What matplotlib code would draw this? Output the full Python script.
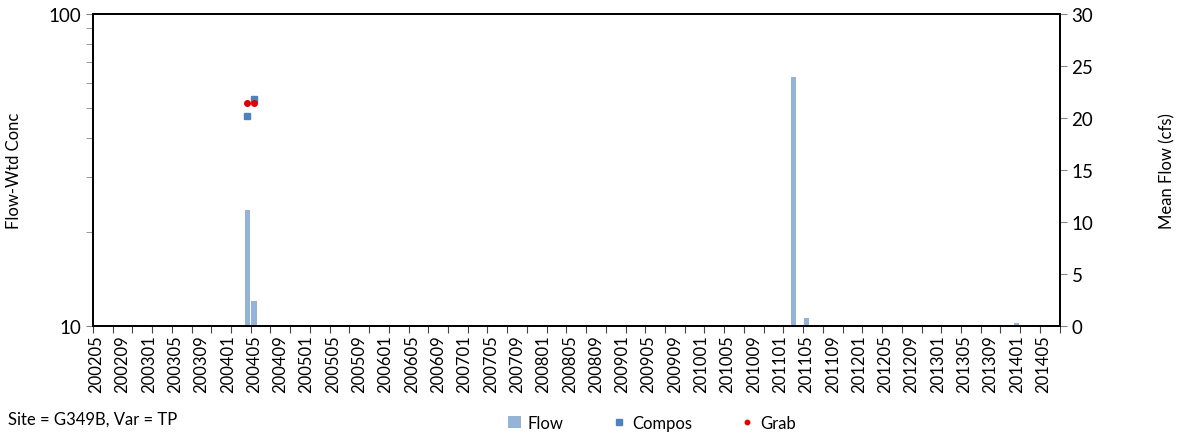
import numpy as np
import matplotlib.pyplot as plt
from matplotlib.ticker import LogLocator, NullFormatter, FixedLocator

plt.rcParams['font.family'] = ['Lato', 'DejaVu Sans']
plt.rcParams['font.size'] = 11

# monthly categories 200205 .. 201407
months = []
y, m = 2002, 5
while (y, m) <= (2014, 7):
    months.append('%d%02d' % (y, m))
    m += 1
    if m > 12:
        y, m = y + 1, 1

flow_months = ['200404', '200405', '201103', '201105', '201109', '201112',
               '201202', '201205', '201401']
flow_vals = [11.2, 2.4, 23.9, 0.8, 0.08, 0.08, 0.1, 0.1, 0.3]

compos_months = ['200404', '200405']
compos_vals = [47.2, 53.2]

grab_months = ['200404', '200405']
grab_vals = [51.7, 51.7]

c_flow = '#95B3D7'
c_compos = '#4F81BD'
c_grab = '#E00000'

idx = {mo: i for i, mo in enumerate(months)}
n = len(months)

fig = plt.figure(figsize=[11.81, 4.39], dpi=100)
ax = plt.axes([0.0787, 0.255, 0.8185, 0.711])
ax2 = ax.twinx()

ax2.bar([idx[mo] for mo in flow_months], flow_vals, width=0.8, color=c_flow, label='Flow')
ax.plot([idx[mo] for mo in compos_months], compos_vals, 's', color=c_compos, markersize=5, label='Compos')
ax.plot([idx[mo] for mo in grab_months], grab_vals, 'o', color=c_grab, markersize=4, label='Grab')

ax.set_zorder(ax2.get_zorder() + 1)
ax.patch.set_visible(False)

ax.set_yscale('log')
ax.set_ylim(10, 100)
ax.yaxis.set_major_locator(FixedLocator([10, 100]))
ax.yaxis.set_minor_locator(LogLocator(base=10, subs=np.arange(2, 10)))
ax.yaxis.set_minor_formatter(NullFormatter())
ax.set_yticklabels(['10', '100'], fontsize=13.5)
ax2.set_ylim(0, 30)
ax2.set_yticks([0, 5, 10, 15, 20, 25, 30])
ax2.tick_params(axis='y', labelsize=13.5, length=5, color='#888888')

ax.set_xlim(-0.5, n - 0.5)
ax.set_xticks(np.arange(-0.5, n, 3))
ax.set_xticklabels([])
ax.set_xticks(np.arange(0, n, 4), minor=True)
ax.set_xticklabels([months[i] for i in range(0, n, 4)], minor=True, rotation=90, fontsize=12)
ax.tick_params(axis='x', which='major', length=5, color='#444444')
ax.tick_params(axis='x', which='minor', length=0, pad=6)
ax.tick_params(axis='y', which='major', length=5, color='#888888')
ax.tick_params(axis='y', which='minor', length=5, color='#888888')

for a in (ax, ax2):
    for d in ['top', 'bottom', 'left', 'right']:
        a.spines[d].set_linewidth(1.3)

ax.set_ylabel('Flow-Wtd Conc', fontsize=12)
ax.yaxis.set_label_coords(-0.0735, 0.5)
ax2.set_ylabel('Mean Flow (cfs)', fontsize=12, rotation=90)
ax2.yaxis.set_label_coords(1.1035, 0.5)

h1, l1 = ax2.get_legend_handles_labels()
h2, l2 = ax.get_legend_handles_labels()
fig.legend(h1 + h2, l1 + l2, loc='center', bbox_to_anchor=(0.552, 0.034), ncol=3,
           frameon=False, fontsize=12, handlelength=0.8, handletextpad=0.4,
           columnspacing=2.9, markerscale=0.8)

fig.text(0.007, 0.043, 'Site = G349B, Var = TP', fontsize=12, va='center')

plt.savefig('out.png')
plt.close()
